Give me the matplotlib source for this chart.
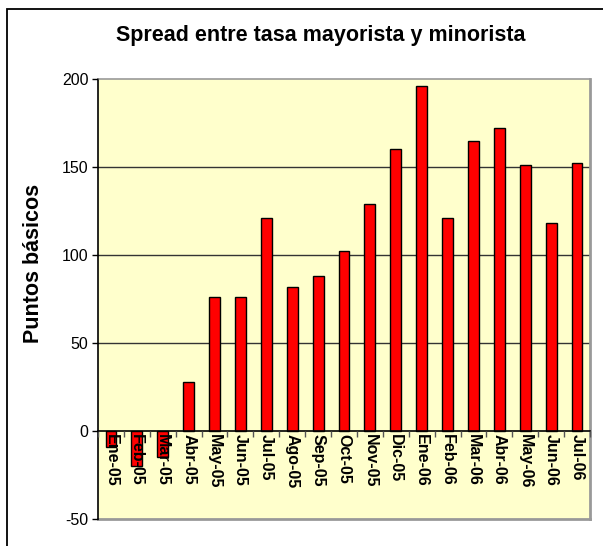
import matplotlib
matplotlib.use("Agg")
import matplotlib.pyplot as plt
import numpy as np
from matplotlib.patches import Rectangle

plt.rcParams['font.family'] = ['Liberation Sans', 'DejaVu Sans']

categories = ["Ene-05", "Feb-05", "Mar-05", "Abr-05", "May-05", "Jun-05", "Jul-05",
              "Ago-05", "Sep-05", "Oct-05", "Nov-05", "Dic-05", "Ene-06", "Feb-06",
              "Mar-06", "Abr-06", "May-06", "Jun-06", "Jul-06"]
values = [-9, -20, -15, 28, 76, 76, 121, 82, 88, 102, 129, 160, 196, 121,
          165, 172, 151, 118, 152]
yticks = [-50, 0, 50, 100, 150, 200]

fig = plt.figure(figsize=(6.03, 5.46), dpi=100)
W, H = 603, 546
# outer chart frame (left and top visible)
fig.patches.append(Rectangle((7 / W, -0.1), 1.2, 1 - 9 / H + 0.1, transform=fig.transFigure,
                             fill=False, edgecolor='black', lw=1.3))

ax = fig.add_axes([98 / W, 1 - 519 / H, (590 - 98) / W, (519 - 79) / H])
ax.set_facecolor('#FFFFCC')
ax.set_axisbelow(False)
x = np.arange(len(categories))
ax.bar(x, values, width=0.42, color='#FF0000', edgecolor='black', linewidth=1.0, zorder=2)
ax.set_xlim(-0.5, len(categories) - 0.5)
ax.set_ylim(-50, 200)
ax.set_yticks(yticks)
ax.set_yticklabels([str(v) for v in yticks], fontsize=11.5)
ax.tick_params(axis='y', direction='out', length=4, width=1, pad=3)
for v in [50, 100, 150]:
    ax.axhline(v, color='#333333', lw=1.0, zorder=1)

# category axis crossing at 0
ax.spines['bottom'].set_position(('data', 0))
ax.spines['bottom'].set_color('black')
ax.spines['bottom'].set_linewidth(1.2)
ax.set_xticks(x)
ax.set_xticklabels(categories, rotation=270, fontsize=11.5, fontweight='bold', va='top', ha='center')
ax.tick_params(axis='x', which='major', length=0, pad=2)
ax.set_xticks(np.arange(len(categories) + 1) - 0.5, minor=True)
ax.tick_params(axis='x', which='minor', length=4, width=1, direction='out', color='#555555')

ax.spines['left'].set_color('black')
ax.spines['left'].set_linewidth(1.2)
ax.spines['top'].set_color('#999999')
ax.spines['top'].set_linewidth(1.2)
ax.spines['right'].set_color('#999999')
ax.spines['right'].set_linewidth(2)
# bottom border of plot area (shadow)
ax.axhline(-50, color='#999999', lw=2, zorder=1.5, clip_on=False)

fig.text(321 / W, 1 - 36 / H, "Spread entre tasa mayorista y minorista", ha='center', va='center',
         fontsize=15.5, fontweight='bold')
fig.text(34 / W, 1 - 263 / H, "Puntos básicos", rotation=90, ha='center', va='center',
         fontsize=15.5, fontweight='bold')

fig.savefig("out.png", dpi=100)
